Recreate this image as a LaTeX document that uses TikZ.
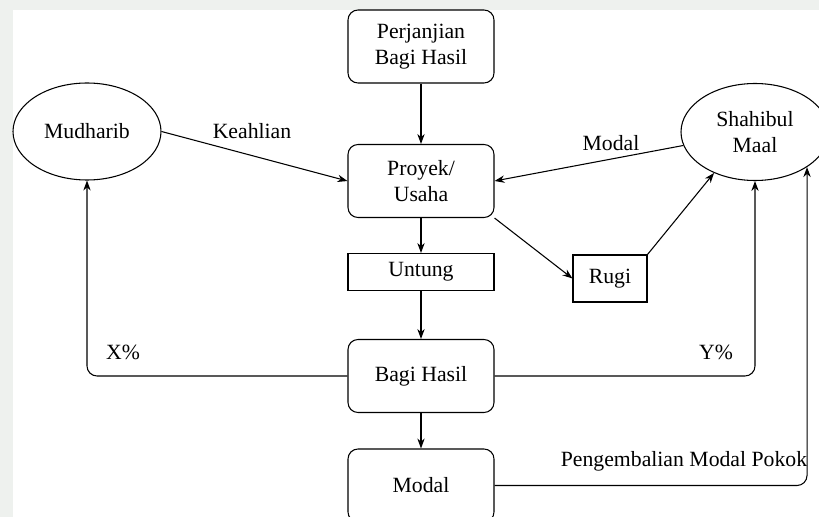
\documentclass[tikz,border=0pt]{standalone}
\usepackage{fontspec}
\IfFontExistsTF{Liberation Serif}{\setmainfont{Liberation Serif}}{\setmainfont{DejaVu Serif}}
\usetikzlibrary{arrows.meta, shapes}
\tikzset{basic/.style={draw,align=center,text badly centered}}
\tikzset{block/.style={basic,rounded corners=7.5pt,minimum width=109.5pt,minimum height=54.75pt}}
\tikzset{flat/.style={basic,minimum width=109.5pt,minimum height=27.75pt}}
\tikzset{party/.style={basic,ellipse,minimum width=111pt,minimum height=72.75pt}}

\begin{document}
\begin{tikzpicture}[%
		> = {Stealth[length=7.5pt,width=5.5pt]}, % arrow head style
		x = 0.75pt, y = -0.75pt, % pixel grid
		line width = 0.8pt, % line style
		font = \rmfamily\fontsize{16.3}{20}\selectfont
		]
		
		\useasboundingbox (0,0) rectangle (819,517);
		\fill[green!12!gray!12] (0,0) rectangle (819,517);
		\fill[white] (13,10) rectangle (819,517);
		
		\node[block] (pbh) at (421,46.5) {Perjanjian\\Bagi Hasil};
		\node[block] (proy) at (421,181) {Proyek/\\Usaha};
		\node[flat] (untung) at (421,272) {Untung};
		\node[block] (bagi) at (421,376) {Bagi Hasil};
		\node[block] (modal) at (421,485.5) {Modal};
		\node[basic, minimum width=55.5pt, minimum height=35.25pt] (rugi) at (610,278.5) {Rugi};
		\node[party] (mud) at (87,131.5) {Mudharib};
		\node[party] (sha) at (755,132) {Shahibul\\Maal};
		
		% Alur utama
		\path[->] (pbh) edge (proy);
		\path[->] (proy) edge (untung);
		\path[->] (untung) edge (bagi);
		\path[->] (bagi) edge (modal);
		
		% Keahlian dan modal
		\path[->] (mud.east) edge (proy.west);
		\path[->] (sha) edge (proy.east);
		\node (lkeahlian) at (252,131) {Keahlian};
		\node (lmodal) at (611,143) {Modal};
		
		% Rugi
		\path[->] (proy.south east) edge (rugi.west);
		\path[->] (rugi.north east) edge (sha.225);
		
		% Pembagian hasil
		\draw[->, rounded corners=7.5pt] (bagi.west) -| (mud.south);
		\draw[->, rounded corners=7.5pt] (bagi.east) -| (sha.south);
		\draw[->, rounded corners=7.5pt] (modal.east) -| (sha.-34);
		\node (lx) at (123,352) {X\%};
		\node (ly) at (716,352) {Y\%};
		\node (lpokok) at (684,461) {Pengembalian Modal Pokok};
		\end{tikzpicture}
\end{document}
